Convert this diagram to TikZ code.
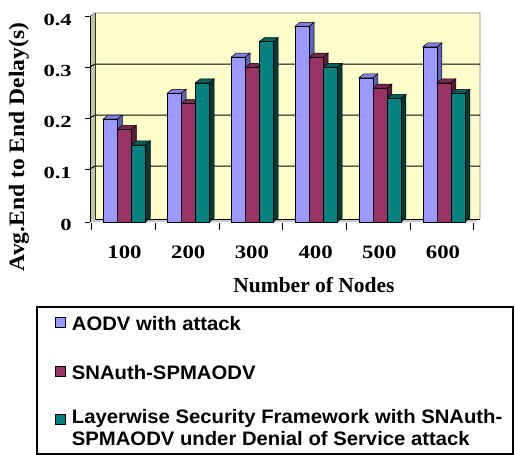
\documentclass[tikz,border=0pt]{standalone}
\usepackage{fontspec}
\usepackage{graphicx}
\setmainfont{Liberation Serif}
\newfontfamily\arialf{Liberation Sans}
\definecolor{wallc}{HTML}{FFFFCC}
\definecolor{sidewall}{HTML}{C4C4A8}
\definecolor{floorc}{HTML}{C8C8C8}
\definecolor{bfront}{HTML}{9999FF}
\definecolor{bside}{HTML}{6060B0}
\definecolor{btop}{HTML}{8080E0}
\definecolor{mfront}{HTML}{993366}
\definecolor{mside}{HTML}{5A1E3C}
\definecolor{mtop}{HTML}{7A2952}
\definecolor{tfront}{HTML}{008080}
\definecolor{tside}{HTML}{003838}
\definecolor{ttop}{HTML}{006060}
\newcommand\drawbar[5]{%
  \pgfmathsetmacro\bt{222-515*#2}%
  \filldraw[fill=#4,draw=black,line width=0.5pt] (#1+14,222) -- (#1+14,\bt) -- (#1+19,\bt-4) -- (#1+19,218) -- cycle;
  \filldraw[fill=#5,draw=black,line width=0.5pt] (#1,\bt) -- (#1+14,\bt) -- (#1+19,\bt-4) -- (#1+5,\bt-4) -- cycle;
  \filldraw[fill=#3,draw=black,line width=0.5pt] (#1,222) rectangle (#1+14,\bt);
}
\tikzset{
  ticklab/.style={anchor=base east,inner sep=0pt,font=\fontsize{17}{17}\selectfont\bfseries},
  catlab/.style={anchor=base,inner sep=0pt,font=\fontsize{19}{19}\selectfont\bfseries},
  leglab/.style={anchor=base west,inner sep=0pt,font=\arialf\fontsize{19.5}{19.5}\selectfont\bfseries},
  legmark/.style={draw=black,line width=0.6pt},
  grid/.style={draw=black,line width=1pt}
}
\begin{document}
\begin{tikzpicture}[x=1pt,y=-1pt]
\useasboundingbox (0,0) rectangle (515,455);
\fill[white] (0,0) rectangle (515,455);
% walls
\fill[wallc] (95,13) rectangle (480,219);
\fill[sidewall] (90,16) -- (95,13) -- (95,219) -- (90,222) -- cycle;
\fill[floorc] (90,222) -- (95,219) -- (480,219) -- (475,222) -- cycle;
\draw[gray,line width=0.8pt] (90,16) -- (95,13) -- (480,13) -- (480,219);
% gridlines
\foreach \t in {67,118,169} {
  \draw[grid] (90,\t) -- (95,\t-3) -- (480,\t-3);
}
\draw[black,line width=0.9pt] (95,219.5) -- (480,219.5);
\draw[black!80,line width=0.8pt] (95,13) -- (95,219.5);
% y axis
\draw[black,line width=1pt] (90,16) -- (90,222);
\foreach \t in {16,67,118,169,222} { \draw[black,line width=1pt] (85,\t) -- (90,\t); }
% x ticks
\foreach \k in {0,...,6} { \draw[black,line width=1pt] (91.7+63.7*\k,223) -- (91.7+63.7*\k,230); }
% bars
\foreach \i/\a/\b/\c in {0/0.20/0.18/0.15, 1/0.25/0.23/0.27, 2/0.32/0.30/0.35, 3/0.38/0.32/0.30, 4/0.28/0.26/0.24, 5/0.34/0.27/0.25} {
  \pgfmathsetmacro\bx{103.3+63.9*\i}
  \drawbar{\bx}{\a}{bfront}{bside}{btop}
  \drawbar{\bx+14}{\b}{mfront}{mside}{mtop}
  \drawbar{\bx+28}{\c}{tfront}{tside}{ttop}
}
% tick labels
\node[ticklab] (y4) at (72,25.5) {\scalebox{1.33}[1]{0.4}};
\node[ticklab] (y3) at (72,76.5) {\scalebox{1.33}[1]{0.3}};
\node[ticklab] (y2) at (72,127.5) {\scalebox{1.33}[1]{0.2}};
\node[ticklab] (y1) at (72,178.5) {\scalebox{1.33}[1]{0.1}};
\node[ticklab] (y0) at (72,230.5) {\scalebox{1.33}[1]{0}};
\foreach \k/\lab in {0/100,1/200,2/300,3/400,4/500,5/600} {
  \node[catlab] (c\k) at (124.5+63.7*\k,258) {\scalebox{1.2}[1]{\lab}};
}
\node[anchor=base,inner sep=0pt,font=\fontsize{21.5}{21.5}\selectfont\bfseries] (xt) at (314,292.3) {Number of Nodes};
\node[rotate=90,inner sep=0pt,font=\fontsize{22}{22}\selectfont\bfseries] (yt) at (19,147) {\scalebox{1.07}[1]{Avg.End to End Delay(s)}};
% legend
\draw[black,line width=1.1pt] (37,307) rectangle (513,454);
\filldraw[legmark,fill=bfront] (55,317) rectangle (65,327);
\filldraw[legmark,fill=mfront] (55,366) rectangle (65,376);
\filldraw[legmark,fill=tfront] (55,414) rectangle (65,424);
\node[leglab] (l1) at (71.7,330) {\scalebox{1.04}[1]{AODV with attack}};
\node[leglab] (l2) at (71.7,379) {\scalebox{1.04}[1]{SNAuth-SPMAODV}};
\node[leglab] (l3) at (71.7,423.3) {\scalebox{1.04}[1]{Layerwise Security Framework with SNAuth-}};
\node[leglab] (l4) at (71.7,445) {\scalebox{1.04}[1]{SPMAODV under Denial of Service attack}};
\end{tikzpicture}
\end{document}
